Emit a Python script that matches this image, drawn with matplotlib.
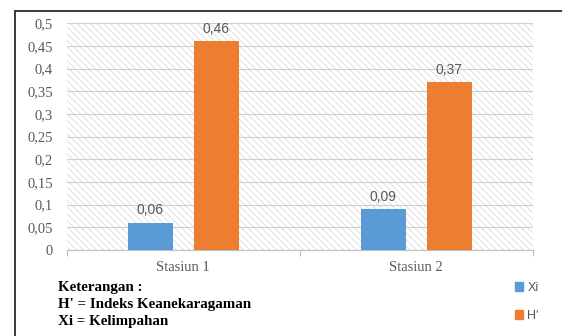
import matplotlib
matplotlib.use("Agg")
import matplotlib.pyplot as plt
import numpy as np
from matplotlib.patches import Rectangle
from matplotlib.lines import Line2D

stations = ["Stasiun 1", "Stasiun 2"]
xi_values = [0.06, 0.09]
h_values = [0.46, 0.37]
y_ticks = [0, 0.05, 0.1, 0.15, 0.2, 0.25, 0.3, 0.35, 0.4, 0.45, 0.5]
series_names = ["Xi", "H'"]
notes = ["Keterangan :", "H' = Indeks Keanekaragaman", "Xi = Kelimpahan"]

BLUE = "#5b9bd5"
ORANGE = "#ed7d31"
GRAY_TXT = "#595959"


def comma(v):
    return f"{v:g}".replace(".", ",")


plt.rcParams["hatch.linewidth"] = 0.6

fig = plt.figure(figsize=(5.62, 3.36), dpi=100)
fig.patch.set_facecolor("white")

ax = fig.add_axes([0.119, 0.256, 0.829, 0.675])
ax.set_facecolor("white")

# diagonal hatched plot background
ax.add_patch(Rectangle((0, 0), 1, 1, transform=ax.transAxes, facecolor="white",
                       edgecolor="#dadada", hatch="\\" * 5, lw=0, zorder=0))

x = np.arange(len(stations))
w = 0.193
off = 0.142
b1 = ax.bar(x - off, xi_values, w, color=BLUE, zorder=3)
b2 = ax.bar(x + off, h_values, w, color=ORANGE, zorder=3)

for bars, vals in ((b1, xi_values), (b2, h_values)):
    for r, v in zip(bars, vals):
        ax.annotate(comma(v), (r.get_x() + r.get_width() / 2, v),
                    xytext=(0, 4), textcoords="offset points",
                    ha="center", va="bottom", fontsize=10,
                    family="Liberation Sans", color=GRAY_TXT)

ax.set_xlim(-0.5, 1.5)
ax.set_ylim(0, 0.5)
ax.set_yticks(y_ticks)
ax.set_yticklabels([comma(t) for t in y_ticks], family="Liberation Serif",
                   fontsize=10.5, color=GRAY_TXT)
ax.yaxis.grid(True, color="#cfcfcf", lw=0.8, zorder=1)
ax.set_axisbelow(True)
ax.tick_params(axis="y", length=0, pad=10)

ax.set_xticks([-0.5, 0.5, 1.5])
ax.set_xticklabels([])
ax.set_xticks(x, minor=True)
ax.set_xticklabels(stations, minor=True, family="Liberation Serif",
                   fontsize=10.5, color=GRAY_TXT)
ax.tick_params(axis="x", which="major", length=4, color="#bfbfbf", width=0.8)
ax.tick_params(axis="x", which="minor", length=0, pad=8)

for s in ("top", "right", "left"):
    ax.spines[s].set_visible(False)
ax.spines["bottom"].set_color("#bfbfbf")
ax.spines["bottom"].set_linewidth(0.8)

# legend in the lower right corner
handles = [Rectangle((0, 0), 1, 1, color=BLUE), Rectangle((0, 0), 1, 1, color=ORANGE)]
leg = fig.legend(handles, series_names, loc="upper left",
                 bbox_to_anchor=(0.897, 0.195), frameon=False,
                 prop={"family": "Liberation Sans", "size": 9},
                 handlelength=0.65, handleheight=0.65, handletextpad=0.3,
                 labelspacing=1.3)
for t in leg.get_texts():
    t.set_color(GRAY_TXT)

# explanatory notes under the chart
for i, line in enumerate(notes):
    fig.text(0.103, 1 - (287 + i * 17.5) / 336, line, family="Liberation Serif",
             fontweight="bold", fontsize=10.8, color="black", va="center")

# outer frame lines
fig.add_artist(Line2D([15 / 562, 1], [1 - 10.5 / 336] * 2, color="#3a3a3a", lw=1.4))
fig.add_artist(Line2D([15 / 562] * 2, [0, 1 - 10.5 / 336], color="#3a3a3a", lw=1.4))

fig.savefig("out.png", dpi=100, facecolor="white")
